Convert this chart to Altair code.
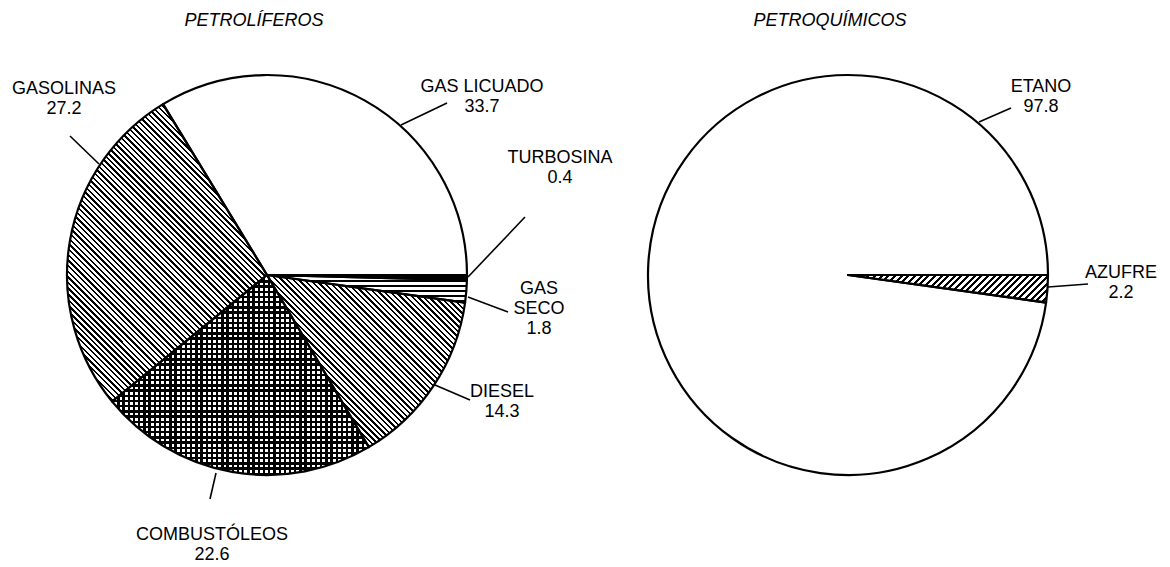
import math
import altair as alt
import pandas as pd

# ---------------- data ----------------
PETRO_TITLE = "PETROLÍFEROS"
PETRO_NAMES = ["GAS LICUADO", "GASOLINAS", "COMBUSTÓLEOS", "DIESEL", "GAS SECO", "TURBOSINA"]
PETRO_VALUES = [33.7, 27.2, 22.6, 14.3, 1.8, 0.4]

QUIM_TITLE = "PETROQUÍMICOS"
QUIM_NAMES = ["ETANO", "AZUFRE"]
QUIM_VALUES = [97.8, 2.2]

# ---------------- style / layout ----------------
FONT = "Liberation Sans"
INK = "#000000"
W, H = 518, 534          # each panel's plot area
R = 200                  # pie radius
TITLE_DY = -249

# pattern: (kind, period px, dark fraction)
PATTERNS = {
    "GASOLINAS": ("back", 4.0, 0.42),
    "DIESEL": ("back", 4.0, 0.42),
    "COMBUSTÓLEOS": ("cross", 5.2, 0.45),
    "GAS SECO": ("horiz", 5.0, 0.35),
    "TURBOSINA": ("solid", 0, 0),
    "AZUFRE": ("fwd", 4.7, 0.45),
}

# label anchor (dx, dy of first baseline) and leader line, relative to pie centre
LABEL_LAYOUT = {
    "GAS LICUADO": dict(t=(215, -183), l=(134, -150, 180, -172), wrap=False),
    "GASOLINAS": dict(t=(-203, -181), l=(-168, -111, -197, -139), wrap=False),
    "TURBOSINA": dict(t=(293, -112), l=(201, 2, 258, -58), wrap=False),
    "GAS SECO": dict(t=(272, 19), l=(201, 22, 241, 37), wrap=True),
    "DIESEL": dict(t=(235, 122), l=(168, 110, 203, 125), wrap=False),
    "COMBUSTÓLEOS": dict(t=(-55, 265), l=(-51, 198, -57, 224), wrap=False),
    "ETANO": dict(t=(193, -183), l=(131, -153, 163, -167), wrap=False),
    "AZUFRE": dict(t=(273, 3), l=(200, 12, 240, 9), wrap=False),
}

THETA_SCALE = alt.Scale(domain=[0, 100], range=[math.pi / 2, math.pi / 2 + 2 * math.pi])
XS = alt.Scale(domain=[-W / 2, W / 2], range=[0, W], nice=False, zero=False)
YS = alt.Scale(domain=[-H / 2, H / 2], range=[0, H], nice=False, zero=False)


def slice_bbox(p0, p1):
    t0 = math.pi / 2 + 2 * math.pi * p0 / 100
    t1 = math.pi / 2 + 2 * math.pi * p1 / 100
    pts = [(0.0, 0.0), (R * math.sin(t0), -R * math.cos(t0)), (R * math.sin(t1), -R * math.cos(t1))]
    for k in range(-2, 14):
        a = k * math.pi / 2
        if t0 < a < t1:
            pts.append((R * math.sin(a), -R * math.cos(a)))
    xs = [p[0] for p in pts]
    ys = [p[1] for p in pts]
    return max(max(xs) - min(xs), 1.0), max(max(ys) - min(ys), 1.0)


def stripe_gradient(kind, period, frac, w, h, dark=INK, light="#ffffff"):
    if kind in ("back", "fwd"):
        s = (w + h) / (w * w + h * h)
        length = (w + h) / math.sqrt(2)
        if kind == "back":
            x1, y1, x2, y2 = 0, 1, s * w, 1 - s * h
        else:
            x1, y1, x2, y2 = 0, 0, s * w, s * h
    elif kind == "horiz":
        x1, y1, x2, y2 = 0, 0, 0, 1
        length = h
    else:  # vert
        x1, y1, x2, y2 = 0, 0, 1, 0
        length = w
    n = length / period
    stops = []
    k = 0
    while k / n < 1 - 1e-9:
        a = k / n
        b = min((k + frac) / n, 1.0)
        c = min((k + 1) / n, 1.0)
        stops += [(a, dark), (b, dark), (b, light), (c, light)]
        k += 1
    return alt.LinearGradient(
        gradient="linear",
        x1=round(x1, 5), y1=round(y1, 5), x2=round(x2, 5), y2=round(y2, 5),
        stops=[alt.GradientStop(offset=round(o, 5), color=c) for o, c in stops],
    )


def pattern_fills(spec, w, h):
    kind, period, frac = spec
    if kind == "solid":
        return [INK]
    if kind == "cross":
        return [
            stripe_gradient("horiz", period, frac, w, h),
            stripe_gradient("vert", period, frac, w, h, light="rgba(255,255,255,0)"),
        ]
    return [stripe_gradient(kind, period, frac, w, h)]


def pie_panel(title, names, values, title_dx):
    n = len(names)
    order = list(range(n))[::-1]   # clockwise from 3 o'clock
    df = pd.DataFrame({"name": names, "value": values, "ord": order})
    base = alt.Chart(df).transform_window(
        cum="sum(value)", sort=[alt.SortField("ord")], frame=[None, 0]
    ).transform_calculate(start="datum.cum - datum.value")
    th = alt.Theta("start:Q", scale=THETA_SCALE)
    th2 = alt.Theta2("cum:Q")

    layers = [
        base.mark_arc(outerRadius=R, innerRadius=0, fill="#ffffff", strokeWidth=0)
        .encode(theta=th, theta2=th2)
    ]

    spans = {}
    cum = 0.0
    for i in sorted(range(n), key=lambda i: order[i]):
        spans[names[i]] = (cum, cum + values[i])
        cum += values[i]

    for name in names:
        if name in PATTERNS:
            w, h = slice_bbox(*spans[name])
            for fill in pattern_fills(PATTERNS[name], w, h):
                layers.append(
                    base.transform_filter(alt.datum.name == name)
                    .mark_arc(outerRadius=R, innerRadius=0, fill=fill, strokeWidth=0)
                    .encode(theta=th, theta2=th2)
                )

    layers.append(
        base.mark_arc(outerRadius=R, innerRadius=0, fill="#ffffff", fillOpacity=0,
                      stroke=INK, strokeWidth=2.2, strokeJoin="round")
        .encode(theta=th, theta2=th2)
    )

    rows = []
    for name, v in zip(names, values):
        lay = LABEL_LAYOUT[name]
        nm = name.replace(" ", "\n") if lay["wrap"] else name
        rows.append(dict(label=f"{nm}\n{v:.1f}", tx=lay["t"][0], ty=lay["t"][1],
                         x1=lay["l"][0], y1=lay["l"][1], x2=lay["l"][2], y2=lay["l"][3]))
    ann = pd.DataFrame(rows)

    layers.append(
        alt.Chart(ann).mark_rule(color=INK, strokeWidth=1.6).encode(
            x=alt.X("x1:Q", scale=XS, axis=None),
            y=alt.Y("y1:Q", scale=YS, axis=None),
            x2="x2:Q", y2="y2:Q",
        )
    )
    layers.append(
        alt.Chart(ann).mark_text(font=FONT, fontSize=18, align="center", baseline="alphabetic",
                                 lineBreak="\n", lineHeight=20, color=INK).encode(
            x=alt.X("tx:Q", scale=XS, axis=None),
            y=alt.Y("ty:Q", scale=YS, axis=None),
            text="label:N",
        )
    )
    tdf = pd.DataFrame({"t": [title], "tx": [title_dx], "ty": [TITLE_DY]})
    layers.append(
        alt.Chart(tdf).mark_text(font=FONT, fontSize=18, fontStyle="italic", align="center",
                                 baseline="alphabetic", color=INK).encode(
            x=alt.X("tx:Q", scale=XS, axis=None),
            y=alt.Y("ty:Q", scale=YS, axis=None),
            text="t:N",
        )
    )
    return alt.layer(*layers).properties(width=W, height=H)


left = pie_panel(PETRO_TITLE, PETRO_NAMES, PETRO_VALUES, -13)
right = pie_panel(QUIM_TITLE, QUIM_NAMES, QUIM_VALUES, -18)

chart = (
    alt.hconcat(left, right, spacing=63, bounds="flush")
    .properties(padding={"left": 0, "top": 0, "right": 5, "bottom": 5}, background="#ffffff")
    .configure_view(strokeWidth=0)
)

chart.save("out.html", embed_options={"renderer": "svg", "actions": False})
